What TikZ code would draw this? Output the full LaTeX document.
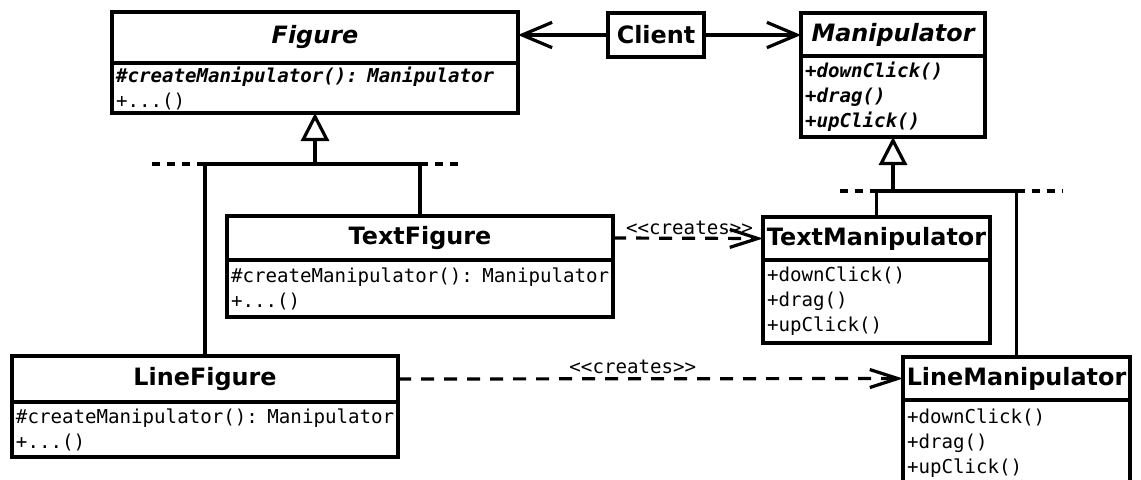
\documentclass[tikz,border=0pt]{standalone}
\usepackage{fontspec}
\setmainfont{DejaVu Sans}
\setmonofont{DejaVu Sans Mono}
\usetikzlibrary{arrows.meta}

% class name and member fonts
\newcommand\clsfont{\fontsize{17.9pt}{20pt}\selectfont\bfseries}
\newcommand\memfont{\fontsize{14.35pt}{18.75pt}\selectfont\ttfamily}
\newcommand\abst[1]{{\bfseries\itshape #1}}

\tikzset{
  x=0.75pt, y=-0.75pt,
  heavy/.style={line width=2.4pt},
  namebox/.style={draw, heavy, rectangle, anchor=north west, inner sep=0pt,
    outer sep=0pt, font=\clsfont},
  membox/.style={draw, heavy, rectangle, anchor=north west, inner xsep=3pt,
    inner ysep=0pt, outer sep=0pt, align=left, font=\memfont},
  conn/.style={heavy},
  extend/.style={heavy, dash pattern=on 6pt off 5.25pt},
  assoc/.style={heavy, -{Straight Barb[length=22.5pt, width=19pt]}},
  gen/.style={heavy, -{Triangle[open, length=21pt, width=21pt, fill=white]}},
  dep/.style={heavy, dash pattern=on 9.75pt off 7.5pt,
    -{Straight Barb[length=21pt, width=13.5pt]}},
  stereo/.style={font=\memfont, inner sep=0pt, anchor=base},
}

\begin{document}
\begin{tikzpicture}
\useasboundingbox (0,0) rectangle (1141,479);
\fill[white] (0,0) rectangle (1141,479);

% Figure hierarchy
\node[namebox, minimum width=406*0.75pt, minimum height=51*0.75pt] (fig) at (112,12)
  {\makebox[0pt]{\itshape Figure}};
\node[membox, text width=406*0.75pt-6pt, minimum height=50*0.75pt] (figm) at (fig.south west)
  {\abst{\mbox{\#createManipulator(): Manipulator}}\\+...()};

\node[namebox, minimum width=386*0.75pt, minimum height=44*0.75pt] (tfig) at (227,216)
  {\makebox[0pt]{TextFigure}};
\node[membox, text width=386*0.75pt-6pt, minimum height=57*0.75pt] (tfigm) at (tfig.south west)
  {\mbox{\#createManipulator(): Manipulator}\\+...()};

\node[namebox, minimum width=386*0.75pt, minimum height=46*0.75pt] (lfig) at (12,356)
  {\makebox[0pt]{LineFigure}};
\node[membox, text width=386*0.75pt-6pt, minimum height=55*0.75pt] (lfigm) at (lfig.south west)
  {\mbox{\#createManipulator(): Manipulator}\\+...()};

% Client
\node[namebox, minimum width=96*0.75pt, minimum height=44*0.75pt] (client) at (608,13)
  {\makebox[0pt]{Client}};

% Manipulator hierarchy
\node[namebox, minimum width=184*0.75pt, minimum height=43*0.75pt] (man) at (801,13)
  {\makebox[0pt]{\itshape Manipulator}};
\node[membox, text width=184*0.75pt-6pt, minimum height=81*0.75pt] (manm) at (man.south west)
  {\abst{+downClick()}\\\abst{+drag()}\\\abst{+upClick()}};

\node[namebox, minimum width=227*0.75pt, minimum height=43*0.75pt] (tman) at (763,217)
  {\makebox[0pt]{TextManipulator}};
\node[membox, text width=227*0.75pt-6pt, minimum height=83*0.75pt] (tmanm) at (tman.south west)
  {+downClick()\\+drag()\\+upClick()};

\node[namebox, minimum width=227*0.75pt, minimum height=43*0.75pt] (lman) at (903,357)
  {\makebox[0pt]{LineManipulator}};
\node[membox, text width=227*0.75pt-6pt, minimum height=86*0.75pt] (lmanm) at (lman.south west)
  {+downClick()\\+drag()\\+upClick()};

% client associations
\draw[assoc] (client.west) -- (client.west -| fig.east);
\draw[assoc] (client.east) -- (client.east -| man.west);

% generalization of figures
\coordinate (figlvl) at (0,164);
\coordinate (figdl) at (152,164);
\coordinate (figdr) at (463,164);
\draw[gen] (figm.south |- figlvl) -- (figm.south);
\draw[conn] (lfig.north) |- (tfig.north |- figlvl) -- (tfig.north);
\draw[extend] (figdl) -- (lfig.north |- figlvl);
\draw[extend] (tfig.north |- figlvl) -- (figdr);

% generalization of manipulators
\coordinate (manlvl) at (0,191);
\coordinate (mandl) at (840,191);
\coordinate (mandr) at (1062,191);
\draw[gen] (manm.south |- manlvl) -- (manm.south);
\draw[conn] (tman.north) |- (lman.north |- manlvl) -- (lman.north);
\draw[extend] (mandl) -- (tman.north |- manlvl);
\draw[extend] (lman.north |- manlvl) -- (mandr);

% creation dependencies
\draw[dep] (tfig.east) -- node[stereo, pos=0.51, yshift=2.5pt] {<<creates>>} (tman.west);
\draw[dep] (lfig.east) -- node[stereo, pos=0.465, yshift=3.75pt] {<<creates>>} (lman.west);
\end{tikzpicture}
\end{document}
